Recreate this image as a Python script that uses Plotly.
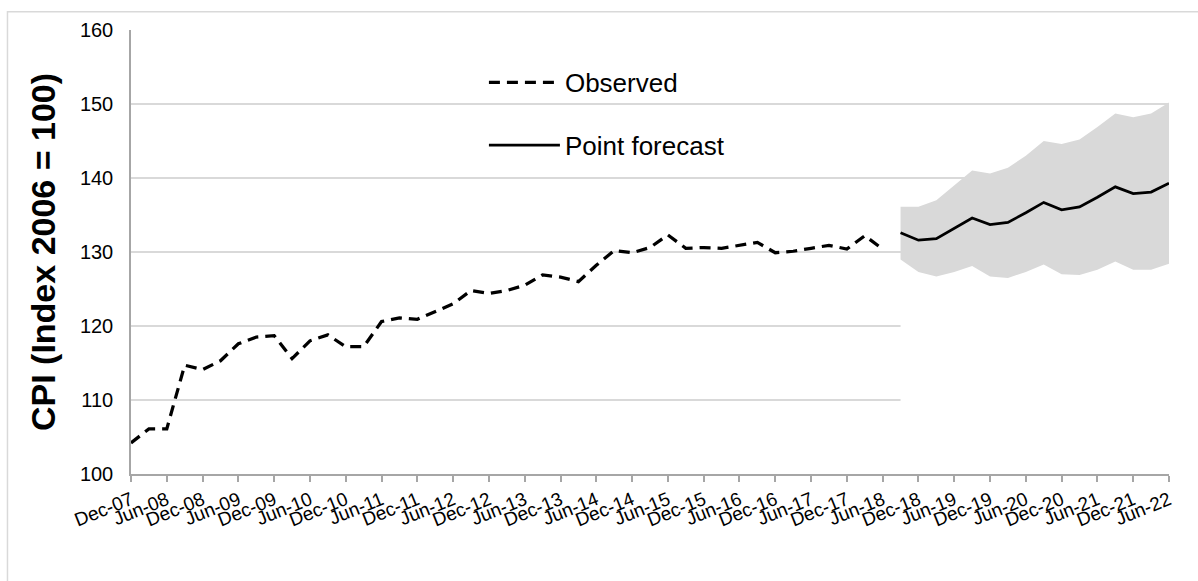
import plotly.graph_objects as go

# Quarterly periods shown on the category axis
quarters = [
    "Dec-07", "Mar-08", "Jun-08", "Sep-08", "Dec-08", "Mar-09", "Jun-09", "Sep-09",
    "Dec-09", "Mar-10", "Jun-10", "Sep-10", "Dec-10", "Mar-11", "Jun-11", "Sep-11",
    "Dec-11", "Mar-12", "Jun-12", "Sep-12", "Dec-12", "Mar-13", "Jun-13", "Sep-13",
    "Dec-13", "Mar-14", "Jun-14", "Sep-14", "Dec-14", "Mar-15", "Jun-15", "Sep-15",
    "Dec-15", "Mar-16", "Jun-16", "Sep-16", "Dec-16", "Mar-17", "Jun-17", "Sep-17",
    "Dec-17", "Mar-18", "Jun-18", "Sep-18", "Dec-18", "Mar-19", "Jun-19", "Sep-19",
    "Dec-19", "Mar-20", "Jun-20", "Sep-20", "Dec-20", "Mar-21", "Jun-21", "Sep-21",
    "Dec-21", "Mar-22", "Jun-22",
]

# Axis labels: every second quarter
tick_labels = [
    "Dec-07", "Jun-08", "Dec-08", "Jun-09", "Dec-09", "Jun-10", "Dec-10", "Jun-11",
    "Dec-11", "Jun-12", "Dec-12", "Jun-13", "Dec-13", "Jun-14", "Dec-14", "Jun-15",
    "Dec-15", "Jun-16", "Dec-16", "Jun-17", "Dec-17", "Jun-18", "Dec-18", "Jun-19",
    "Dec-19", "Jun-20", "Dec-20", "Jun-21", "Dec-21", "Jun-22",
]

# Observed CPI, Dec-07 .. Jun-18
observed = [
    104.2, 106.1, 106.1, 114.7, 114.1, 115.3, 117.6, 118.5, 118.7, 115.6,
    118.0, 118.8, 117.2, 117.2, 120.6, 121.1, 120.9, 122.0, 123.0, 124.8,
    124.4, 124.8, 125.5, 126.9, 126.6, 126.0, 128.2, 130.2, 129.9, 130.6,
    132.3, 130.5, 130.6, 130.5, 130.9, 131.3, 129.9, 130.1, 130.5, 130.9,
    130.4, 132.2, 130.4,
]

# Forecast, Sep-18 .. Jun-22
forecast_point = [
    132.6, 131.6, 131.8, 133.2, 134.6, 133.7, 134.0, 135.3,
    136.7, 135.7, 136.1, 137.4, 138.8, 137.9, 138.1, 139.3,
]
forecast_upper = [
    136.1, 136.1, 137.0, 139.0, 141.0, 140.6, 141.4, 143.0,
    145.0, 144.6, 145.2, 146.9, 148.7, 148.2, 148.7, 150.2,
]
forecast_lower = [
    129.0, 127.3, 126.7, 127.3, 128.1, 126.7, 126.5, 127.3,
    128.3, 127.0, 126.9, 127.6, 128.7, 127.6, 127.6, 128.4,
]

obs_x = quarters[:len(observed)]
fc_x = quarters[len(observed):len(observed) + len(forecast_point)]

FONT = "Liberation Sans, Arial, sans-serif"

fig = go.Figure()

# Band: white below the lower bound (hides gridlines), grey between bounds
fig.add_trace(go.Scatter(
    x=fc_x, y=forecast_lower, mode="lines",
    line=dict(color="rgba(0,0,0,0)", width=0),
    fill="tozeroy", fillcolor="#ffffff",
    showlegend=False, hoverinfo="skip",
))
fig.add_trace(go.Scatter(
    x=fc_x, y=forecast_upper, mode="lines",
    line=dict(color="rgba(0,0,0,0)", width=0),
    fill="tonexty", fillcolor="#d9d9d9",
    showlegend=False, hoverinfo="skip",
))

fig.add_trace(go.Scatter(
    x=obs_x, y=observed, mode="lines", name="Observed",
    line=dict(color="#000000", width=3.25, dash="11px,7px"),
    legendgroup="obs",
))
fig.add_trace(go.Scatter(
    x=fc_x, y=forecast_point, mode="lines", name="Point forecast",
    line=dict(color="#000000", width=2.75),
    legendgroup="fc",
))

# Light outer chart border
fig.add_shape(
    type="rect", xref="paper", yref="paper",
    x0=-0.119, x1=1.1, y0=-0.3, y1=1.041,
    line=dict(color="#d9d9d9", width=1.5), fillcolor="rgba(0,0,0,0)",
    layer="below",
)

fig.update_layout(
    width=1198, height=581,
    margin=dict(l=131, r=29, t=30, b=107),
    paper_bgcolor="#ffffff", plot_bgcolor="#ffffff",
    font=dict(family=FONT, color="#000000"),
    showlegend=True,
    legend=dict(
        x=0.34, y=0.935, xanchor="left", yanchor="top",
        font=dict(size=26, family=FONT, color="#000000"),
        bgcolor="rgba(0,0,0,0)", borderwidth=0,
        traceorder="grouped", tracegroupgap=26,
        itemwidth=71,
    ),
    xaxis=dict(
        type="category", categoryorder="array", categoryarray=quarters,
        range=[0, len(quarters) - 1],
        tickmode="array", tickvals=tick_labels, ticktext=tick_labels,
        tickangle=-22, tickfont=dict(size=19, family=FONT, color="#000000"),
        showline=True, linecolor="#a6a6a6", linewidth=1.5,
        ticks="outside", ticklen=6, tickcolor="#a6a6a6", tickwidth=1.5,
        showgrid=False, zeroline=False, automargin=False,
    ),
    yaxis=dict(
        range=[100, 160], tickmode="array", tickvals=[100, 110, 120, 130, 140, 150, 160],
        tickfont=dict(size=20, family=FONT, color="#000000"),
        showline=True, linecolor="#a6a6a6", linewidth=1.5,
        ticks="", ticklabelstandoff=12,
        showgrid=True, gridcolor="#d9d9d9", gridwidth=1.5,
        zeroline=False, automargin=False,
        title=dict(text="<b>CPI (Index 2006 = 100)</b>",
                   font=dict(size=34, family=FONT, color="#000000"), standoff=14),
    ),
)

fig.write_html("out.html")
